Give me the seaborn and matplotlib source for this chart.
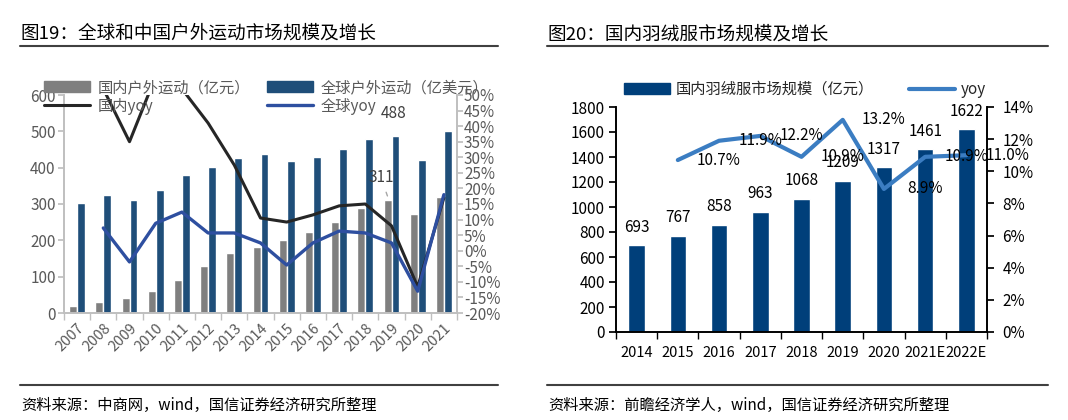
import numpy as np
import pandas as pd
import seaborn as sns
import matplotlib.pyplot as plt
from matplotlib.patches import Patch
from matplotlib.lines import Line2D

# 图19 data
years_a = [str(y) for y in range(2007, 2022)]
domestic_size = [18, 29, 41, 60, 92, 130, 165, 183, 200, 222, 250, 290, 311, 272, 318]
global_size = [303, 325, 312, 338, 381, 402, 427, 438, 418, 428, 452, 478, 488, 422, 500]
# yoy series start in 2008
domestic_yoy = [52, 35, 56, 52, 41, 27.5, 10.5, 9.2, 11.5, 14.4, 15, 8, -11.6, 17]
global_yoy = [7.3, -3.6, 8.8, 12.4, 5.7, 5.7, 2.5, -4.6, 2.5, 6.3, 5.7, 2.5, -13, 18]

# 图20 data
years_b = ["2014", "2015", "2016", "2017", "2018", "2019", "2020", "2021E", "2022E"]
down_size = [693, 767, 858, 963, 1068, 1209, 1317, 1461, 1622]
# yoy series starts in 2015
down_yoy = [10.7, 11.9, 12.2, 10.9, 13.2, 8.9, 10.9, 11.0]

GRAY_BAR = "#7F7F7F"
BLUE_BAR = "#1F4E79"
BLACK_LINE = "#262626"
BLUE_LINE = "#2E4FA0"
NAVY = "#003F7A"
YOY_BLUE = "#3B7DC2"
AXIS_GRAY = "#BFBFBF"
TEXT_GRAY = "#595959"

sns.set_theme(style="white")
plt.rcParams['font.family'] = ['Noto Sans CJK SC', 'DejaVu Sans']
plt.rcParams['axes.unicode_minus'] = False

fig = plt.figure(figsize=(10.68, 4.2), dpi=100)
W, H = 1068, 420


def fig_box(x0, y0, x1, y1):
    return [x0 / W, 1 - y1 / H, (x1 - x0) / W, (y1 - y0) / H]


# ---------------- left chart ----------------
ax1 = fig.add_axes(fig_box(64, 95, 457, 313))
lab_dom = "国内户外运动（亿元）"
lab_glob = "全球户外运动（亿美元）"
df_a = pd.DataFrame({
    "year": years_a * 2,
    "value": domestic_size + global_size,
    "series": [lab_dom] * len(years_a) + [lab_glob] * len(years_a),
})
sns.barplot(data=df_a, x="year", y="value", hue="series",
            palette=[GRAY_BAR, BLUE_BAR], width=0.6, ax=ax1, legend=False,
            saturation=1)
ax1.set_xlim(-0.5, len(years_a) - 0.5)
ax1.set_ylim(0, 600)
ax1.set_yticks(range(0, 601, 100))
ax1.set_xlabel("")
ax1.set_ylabel("")
ax1.set_xticks(range(len(years_a)))
ax1.set_xticklabels(years_a, rotation=45, ha="right", rotation_mode="anchor")
ax1.set_xticks(np.arange(-0.5, len(years_a), 1), minor=True)
ax1.tick_params(axis="x", which="major", length=0, labelsize=10.5,
                labelcolor=TEXT_GRAY, pad=6)
ax1.tick_params(axis="x", which="minor", length=5, color=AXIS_GRAY, bottom=True)
ax1.tick_params(axis="y", length=4, color=AXIS_GRAY, labelsize=11,
                labelcolor=TEXT_GRAY, left=True, pad=2)

ax1b = ax1.twinx()
x_yoy = np.arange(1, len(years_a))
sns.lineplot(x=x_yoy, y=domestic_yoy, ax=ax1b, color=BLACK_LINE, linewidth=2.2)
sns.lineplot(x=x_yoy, y=global_yoy, ax=ax1b, color=BLUE_LINE, linewidth=2.4)
ax1b.set_ylim(-20, 50)
pct_a = list(range(-20, 51, 5))
ax1b.set_yticks(pct_a)
ax1b.set_yticklabels([f"{v}%" for v in pct_a])
ax1b.tick_params(axis="y", length=4, color=AXIS_GRAY, labelsize=11,
                 labelcolor=TEXT_GRAY, right=True, pad=1)
ax1b.set_xlim(-0.5, len(years_a) - 0.5)

for a in (ax1, ax1b):
    a.spines["top"].set_visible(False)
    for s in ("left", "right", "bottom"):
        a.spines[s].set_color(AXIS_GRAY)
        a.spines[s].set_linewidth(1.2)

i19 = years_a.index("2019")
ax1.text(i19 + 0.08, 550, f"{global_size[i19]}", ha="center", va="center",
         fontsize=11, color="#404040")
ax1.annotate(f"{domestic_size[i19]}", xy=(i19 - 0.12, domestic_size[i19] + 4),
             xytext=(i19 - 0.4, 372), ha="center", va="center", fontsize=11,
             color="#404040",
             arrowprops=dict(arrowstyle="-", color="#A6A6A6", lw=1))

handles_a = [Patch(color=GRAY_BAR), Line2D([], [], color=BLACK_LINE, lw=2.2),
             Patch(color=BLUE_BAR), Line2D([], [], color=BLUE_LINE, lw=2.4)]
labels_a = [lab_dom, "国内yoy", lab_glob, "全球yoy"]
leg = fig.legend(handles_a, labels_a, ncol=2, frameon=False, loc="upper left",
                 bbox_to_anchor=(44 / W, 1 - 79 / H), borderaxespad=0,
                 borderpad=0, handlelength=3.0, handletextpad=0.5,
                 columnspacing=1.1, labelspacing=0.1, fontsize=11)
for t in leg.get_texts():
    t.set_color(TEXT_GRAY)

# ---------------- right chart ----------------
ax2 = fig.add_axes(fig_box(616, 107, 987, 332))
sns.barplot(x=years_b, y=down_size, color=NAVY, width=0.4, ax=ax2,
            saturation=1)
ax2.bar_label(ax2.containers[0], padding=7, fontsize=11, color="black")
for t in ax2.texts:
    t.set_clip_on(False)
ax2.set_xlim(-0.5, len(years_b) - 0.5)
ax2.set_ylim(0, 1800)
ax2.set_yticks(range(0, 1801, 200))
ax2.set_xticks(np.arange(-0.5, len(years_b), 1), minor=True)
ax2.tick_params(axis="x", which="major", length=0, labelsize=10.5,
                labelcolor="black", pad=10)
ax2.tick_params(axis="x", which="minor", length=5, color="black", bottom=True,
                direction="out")
ax2.tick_params(axis="y", length=5, color="black", labelsize=11,
                labelcolor="black", left=True, pad=3)

ax2b = ax2.twinx()
x_down = np.arange(1, len(years_b))
sns.lineplot(x=x_down, y=down_yoy, ax=ax2b, color=YOY_BLUE, linewidth=3)
ax2b.set_ylim(0, 14)
pct_b = list(range(0, 15, 2))
ax2b.set_yticks(pct_b)
ax2b.set_yticklabels([f"{v}%" for v in pct_b])
ax2b.tick_params(axis="y", length=5, color="black", labelsize=11,
                 labelcolor="black", right=True, pad=6)
ax2b.set_xlim(-0.5, len(years_b) - 0.5)
# growth labels sit one category to the right of their point
for xi, v in zip(x_down, down_yoy):
    ax2b.text(xi + 1, v, f"{v:.1f}%", ha="center", va="center", fontsize=11,
              color="black", clip_on=False)

for a in (ax2, ax2b):
    a.spines["top"].set_visible(False)
    for s in ("left", "right", "bottom"):
        a.spines[s].set_color("black")
        a.spines[s].set_linewidth(1.2)

handles_b = [Patch(color=NAVY), Line2D([], [], color=YOY_BLUE, lw=3)]
fig.legend(handles_b, ["国内羽绒服市场规模（亿元）", "yoy"], ncol=2,
           frameon=False, loc="upper left", bbox_to_anchor=(624 / W, 1 - 81 / H),
           borderaxespad=0, borderpad=0, handlelength=3.0, handletextpad=0.4,
           columnspacing=2.3, fontsize=11)

# ---------------- titles, rules and sources ----------------
fig.text(20 / W, 1 - 34 / H, "图19：全球和中国户外运动市场规模及增长",
         fontsize=13.4, va="center", ha="left", color="black")
fig.text(547 / W, 1 - 34 / H, "图20：国内羽绒服市场规模及增长",
         fontsize=13.4, va="center", ha="left", color="black")
for x0, x1 in ((20, 498), (547, 1048)):
    fig.add_artist(Line2D([x0 / W, x1 / W], [1 - 46 / H] * 2,
                          color="#404040", lw=1.5))
    fig.add_artist(Line2D([x0 / W, x1 / W], [1 - 385 / H] * 2,
                          color="#404040", lw=1.5))
fig.text(21 / W, 1 - 405 / H, "资料来源：中商网，wind，国信证券经济研究所整理",
         fontsize=11, va="center", ha="left", color="black")
fig.text(548 / W, 1 - 405 / H, "资料来源：前瞻经济学人，wind，国信证券经济研究所整理",
         fontsize=11, va="center", ha="left", color="black")

fig.savefig("out.png", dpi=100, facecolor="white")
plt.close(fig)
